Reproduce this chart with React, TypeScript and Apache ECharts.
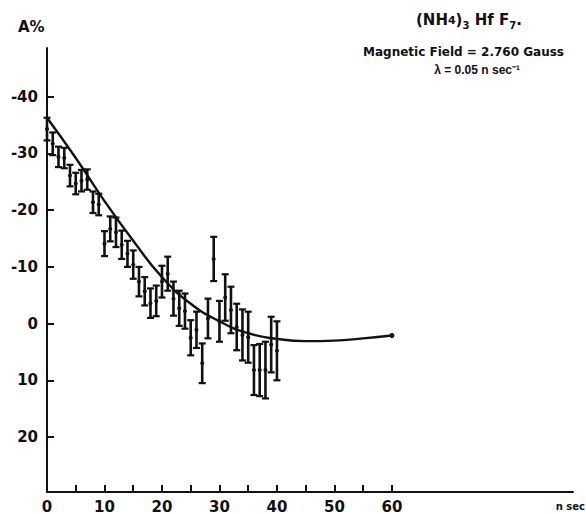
import React, { useEffect, useRef } from "react";
import * as echarts from "echarts";

// Measured asymmetry A% with error bars, one point per ns
const times = [0, 1, 2, 3, 4, 5, 6, 7, 8, 9, 10, 11, 12, 13, 14, 15, 16, 17, 18, 19, 20, 21, 22, 23, 24, 25, 26, 27, 28, 29, 30, 31, 32, 33, 34, 35, 36, 37, 38, 39, 40];
const asym = [-34.3, -31.7, -29.4, -29.2, -26.1, -24.7, -25.2, -25.4, -21.4, -21.0, -14.1, -16.7, -16.1, -13.9, -12.3, -10.4, -7.4, -5.7, -3.6, -4.0, -7.4, -8.8, -4.4, -2.7, -2.2, 2.5, 1.1, 7.0, -0.9, -11.4, -0.4, -4.6, -2.4, 0.6, 2.0, 2.4, 8.2, 8.2, 8.2, 3.7, 4.8];
const errs = [2.0, 2.0, 1.8, 1.8, 1.9, 1.9, 1.9, 1.8, 1.9, 1.9, 2.2, 2.2, 2.6, 2.5, 2.3, 2.5, 2.6, 2.5, 2.6, 2.7, 2.8, 3.0, 3.0, 3.1, 3.1, 3.1, 3.2, 3.5, 3.5, 3.9, 3.6, 4.1, 4.1, 4.1, 4.5, 4.5, 4.4, 4.6, 5.0, 4.9, 5.2];

// Fitted curve
const curveT = [0, 5, 10, 15, 20, 25, 30, 35, 40, 45, 50, 55, 60];
const curveA = [-36.3, -29.2, -21.6, -14.6, -8.2, -3.5, -0.4, 1.7, 2.7, 3.1, 3.0, 2.6, 2.1];

// Axis ticks / labels
const yLabelValues = [-40, -30, -20, -10, 0, 10, 20];
const xLabelValues = [0, 10, 20, 30, 40, 50, 60];
const xTickValues = [5, 10, 15, 20, 25, 30, 35, 40, 45, 50, 55, 60];

const INK = "#111";
const FONT = "DejaVu Sans";
const NARROW = "Liberation Sans";

export default function App() {
  const ref = useRef<HTMLDivElement>(null);
  useEffect(() => {
    if (!ref.current) return;
    const chart = echarts.init(ref.current, undefined, { renderer: "svg" });
    const barData = times.map((t, i) => [t, asym[i], errs[i]]);
    const curveData = curveT.map((t, i) =>
      i === curveT.length - 1
        ? { value: [t, curveA[i]], symbol: "circle", symbolSize: 5 }
        : { value: [t, curveA[i]], symbol: "none" }
    );
    chart.setOption({
      animation: false,
      backgroundColor: "#fff",
      grid: { left: 47, right: 13, top: 48, bottom: 21, containLabel: false },
      xAxis: {
        type: "value",
        min: 0,
        max: 91.5,
        splitLine: { show: false },
        axisLine: { onZero: false, lineStyle: { color: INK, width: 2 } },
        axisTick: { inside: true, length: 7, customValues: xTickValues, lineStyle: { color: INK, width: 2 } },
        axisLabel: {
          customValues: xLabelValues,
          color: INK,
          fontFamily: FONT,
          fontSize: 15,
          fontWeight: "bold",
          margin: 7,
        },
      },
      yAxis: {
        type: "value",
        inverse: true,
        min: -48.6,
        max: 29.7,
        splitLine: { show: false },
        axisLine: { onZero: false, lineStyle: { color: INK, width: 2 } },
        axisTick: { inside: true, length: 7, customValues: yLabelValues, lineStyle: { color: INK, width: 2 } },
        axisLabel: {
          customValues: yLabelValues,
          color: INK,
          fontFamily: FONT,
          fontSize: 15,
          fontWeight: "bold",
          margin: 9,
        },
      },
      series: [
        {
          type: "custom",
          data: barData,
          renderItem: (params: any, api: any) => {
            const x = api.value(0);
            const y = api.value(1);
            const e = api.value(2);
            const top = api.coord([x, y - e]);
            const bot = api.coord([x, y + e]);
            const mid = api.coord([x, y]);
            const hw = 3.5;
            return {
              type: "group",
              children: [
                { type: "line", shape: { x1: top[0], y1: top[1], x2: bot[0], y2: bot[1] }, style: { stroke: INK, lineWidth: 2.6 } },
                { type: "line", shape: { x1: top[0] - hw, y1: top[1], x2: top[0] + hw, y2: top[1] }, style: { stroke: INK, lineWidth: 2.2 } },
                { type: "line", shape: { x1: bot[0] - hw, y1: bot[1], x2: bot[0] + hw, y2: bot[1] }, style: { stroke: INK, lineWidth: 2.2 } },
                { type: "circle", shape: { cx: mid[0], cy: mid[1], r: 2 }, style: { fill: INK } },
              ],
            };
          },
          z: 2,
        },
        {
          type: "line",
          data: curveData,
          smooth: true,
          showSymbol: true,
          symbol: "none",
          lineStyle: { color: INK, width: 2.4 },
          itemStyle: { color: INK },
          z: 3,
        },
      ],
      graphic: [
        {
          type: "text",
          left: 18,
          top: 19,
          style: { text: "A%", font: `bold 15px ${FONT}`, fill: INK },
        },
        {
          type: "text",
          x: 416,
          y: 10,
          style: {
            text: "{m|(NH}{s|4}{m|)}{b|3}{m| Hf F}{b|7}{m|.}",
            fill: INK,
            rich: {
              m: { fontFamily: FONT, fontSize: 15, fontWeight: "bold", lineHeight: 20, verticalAlign: "middle" },
              s: { fontFamily: FONT, fontSize: 11, fontWeight: "bold", lineHeight: 20, verticalAlign: "middle" },
              b: { fontFamily: FONT, fontSize: 10, fontWeight: "bold", lineHeight: 14, verticalAlign: "bottom" },
            },
          },
        },
        {
          type: "text",
          x: 564,
          y: 46,
          style: { text: "Magnetic Field = 2.760 Gauss", font: `bold 12px ${FONT}`, fill: INK, align: "right" },
        },
        {
          type: "text",
          x: 520,
          y: 64,
          style: { text: "λ = 0.05 n sec⁻¹", font: `bold 12px ${NARROW}`, fill: INK, align: "right" },
        },
        {
          type: "text",
          x: 585,
          y: 501,
          style: { text: "n sec", font: `bold 10px ${FONT}`, fill: INK, align: "right" },
        },
      ],
    });
    return () => chart.dispose();
  }, []);
  return <div ref={ref} style={{ position: "fixed", left: 0, top: 0, width: 586, height: 514 }} />;
}
